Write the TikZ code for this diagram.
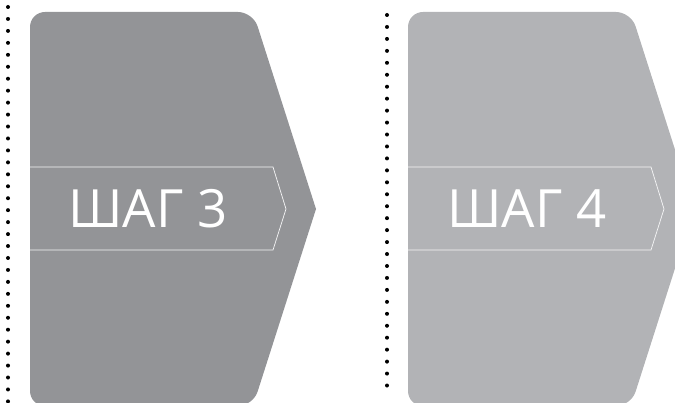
\documentclass[tikz,border=0pt]{standalone}
\usepackage{fontspec}
\setmainfont{Open Sans}
\definecolor{darkstep}{RGB}{147,148,151}
\definecolor{lightstep}{RGB}{178,179,182}
\tikzset{
  stepshape/.style={rounded corners=0.6cm},
  stepbanner/.style={draw=white!92!darkstep, line width=0.8pt},
  steplabel/.style={text=white, inner sep=0pt, font=\fontsize{60}{60}\selectfont},
  dotline/.style={line width=0.16cm, line cap=round, dash pattern=on 0pt off 0.478cm}
}
\begin{document}
\begin{tikzpicture}[x=0.04cm, y=-0.04cm]
\useasboundingbox (0,0) rectangle (675,403);
\clip (0,0) rectangle (675,403);
\coordinate (sepatop) at (8,7);
\coordinate (sepabot) at (8,402);
\coordinate (sepbtop) at (387,15);
\coordinate (sepbbot) at (387,397);
\draw [dotline] (sepatop) -- (sepabot) (sepbtop) -- (sepbbot);
\fill [darkstep, stepshape] (316,209) -- (253,12) -- (30,12) -- (30,406) -- (253,406) -- (316,209);
\fill [lightstep, stepshape] (694,209) -- (631,12) -- (408,12) -- (408,406) -- (631,406) -- (694,209);
\draw [stepbanner] (30,167) -- (273,167) -- (286,209) -- (273,250) -- (30,250);
\draw [stepbanner] (408,167) -- (651,167) -- (664,209) -- (651,250) -- (408,250);
\node (stepthree) at (148,209) [steplabel] {ШАГ 3};
\node (stepfour) at (527,209) [steplabel] {ШАГ 4};
\end{tikzpicture}
\end{document}
